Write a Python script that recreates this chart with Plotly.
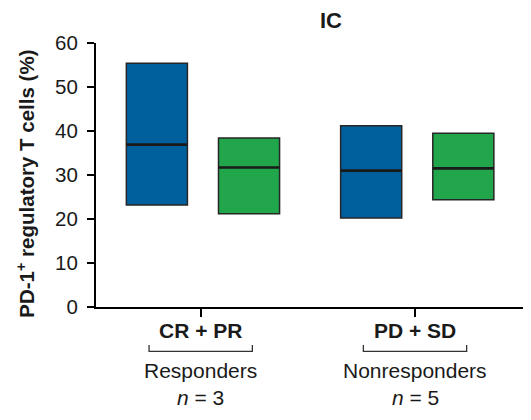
import plotly.graph_objects as go

# ---- data ----
groups = ["CR + PR", "PD + SD"]
group_names = ["Responders", "Nonresponders"]
group_n = [3, 5]
series_names = ["Blue", "Green"]
blue_low = [23.2, 20.2]
blue_high = [55.4, 41.2]
blue_median = [36.9, 31.0]
green_low = [21.2, 24.4]
green_high = [38.4, 39.5]
green_median = [31.7, 31.5]
y_ticks = [0, 10, 20, 30, 40, 50, 60]

BLUE = "#00609e"
GREEN = "#21a64b"
FONT = "Liberation Sans, Arial, sans-serif"

xpos = [1, 2]
W = 0.285
offsets = {"blue": -0.347, "green": 0.083}

fig = go.Figure()

def add_boxes(low, high, med, color, off):
    fig.add_trace(go.Bar(
        x=xpos, base=low, y=[h - l for h, l in zip(high, low)],
        width=W, offset=off,
        marker=dict(color=color, line=dict(color="#262626", width=1.5)),
        showlegend=False, hoverinfo="skip"))
    mx, my = [], []
    for x, m in zip(xpos, med):
        mx += [x + off, x + off + W, None]
        my += [m, m, None]
    fig.add_trace(go.Scatter(x=mx, y=my, mode="lines",
                             line=dict(color="#1a1a1a", width=2.6),
                             showlegend=False, hoverinfo="skip"))

add_boxes(blue_low, blue_high, blue_median, BLUE, offsets["blue"])
add_boxes(green_low, green_high, green_median, GREEN, offsets["green"])

annotations = []
shapes = []
for x, g, name, n in zip(xpos, groups, group_names, group_n):
    annotations.append(dict(x=x, xref="x", y=0, yref="paper", yshift=-23,
                            text=f"<b>{g}</b>", showarrow=False, yanchor="middle",
                            font=dict(size=21, color="#1a1a1a", family=FONT)))
    annotations.append(dict(x=x, xref="x", y=0, yref="paper", yshift=-63,
                            text=name, showarrow=False, yanchor="middle",
                            font=dict(size=21, color="#1a1a1a", family=FONT)))
    annotations.append(dict(x=x, xref="x", y=0, yref="paper", yshift=-90,
                            text=f"<i>n</i> = {n}", showarrow=False, yanchor="middle",
                            font=dict(size=21, color="#1a1a1a", family=FONT)))
    x0, x1 = x - 0.241, x + 0.241
    shapes.append(dict(type="path", xref="x", yref="paper", ysizemode="pixel", yanchor=0,
                       path=f"M {x0},-38 L {x0},-44.3 L {x1},-44.3 L {x1},-38",
                       line=dict(color="#333333", width=1.3)))

annotations.append(dict(x=0.540, xref="paper", y=1, yref="paper", yshift=23,
                        text="<b>IC</b>", showarrow=False, yanchor="middle",
                        font=dict(size=22, color="#1a1a1a", family=FONT)))
annotations.append(dict(x=-0.1616, xref="paper", y=0.466, yref="paper",
                        text="<b>PD-1<sup>+</sup> regulatory T cells (%)</b>",
                        textangle=-90, showarrow=False, xanchor="center", yanchor="middle",
                        font=dict(size=20.5, color="#1a1a1a", family=FONT)))

fig.update_layout(
    width=523, height=412,
    margin=dict(l=88, r=0, t=34.5, b=112.7, pad=0),
    paper_bgcolor="white", plot_bgcolor="white",
    barmode="overlay",
    xaxis=dict(range=[0.5114, 2.5413], showgrid=False, zeroline=False,
               showline=True, linecolor="black", linewidth=2,
               ticks="outside", tickvals=xpos, ticklen=8, tickwidth=2, tickcolor="black",
               showticklabels=False),
    yaxis=dict(range=[0, 60], showgrid=False, zeroline=False,
               showline=True, linecolor="black", linewidth=2,
               ticks="outside", tickvals=y_ticks, ticklen=7, tickwidth=1.5, tickcolor="black",
               ticklabelstandoff=5,
               tickfont=dict(size=20.5, color="#1a1a1a", family=FONT)),
    annotations=annotations, shapes=shapes,
)

fig.write_html("out.html")
